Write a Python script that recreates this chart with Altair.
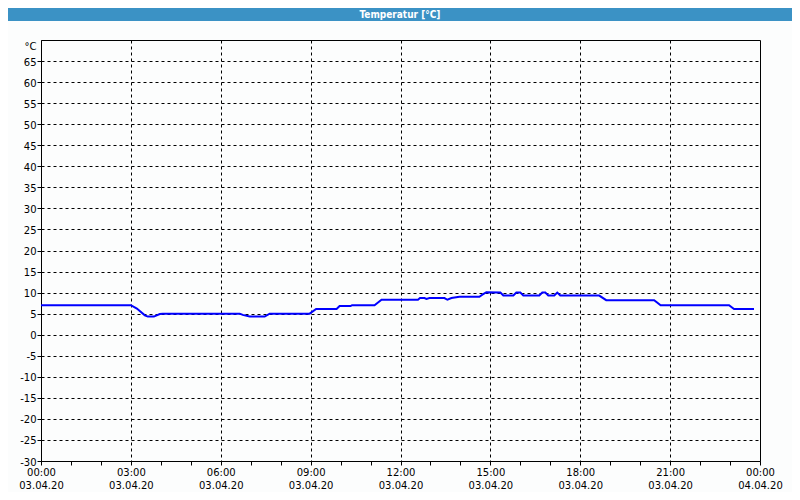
import altair as alt
import pandas as pd

# ---- data ----
times = ["00:00", "03:00", "03:12", "03:28", "03:34", "03:46", "03:58", "04:04",
         "06:38", "06:44", "06:58", "07:28", "07:38", "08:58", "09:11", "09:52",
         "09:58", "10:20", "10:23", "11:08", "11:22", "12:35", "12:39", "12:48",
         "12:52", "12:58", "13:28", "13:34", "13:42", "13:58", "14:38", "14:44",
         "14:52", "15:20", "15:26", "15:46", "15:52", "16:00", "16:06", "16:38",
         "16:44", "16:50", "16:56", "17:08", "17:14", "17:20", "18:38", "18:52",
         "20:28", "20:41", "22:58", "23:08", "23:48"]
temps = [7.0, 7.0, 6.2, 4.6, 4.3, 4.3, 4.9, 5.0,
         5.0, 4.7, 4.3, 4.3, 5.0, 5.0, 6.1, 6.1,
         6.8, 6.8, 7.0, 7.0, 8.3, 8.3, 8.7, 8.7,
         8.5, 8.7, 8.7, 8.3, 8.7, 9.0, 9.0, 9.5,
         10.1, 10.0, 9.3, 9.3, 10.0, 10.0, 9.3, 9.3,
         10.0, 10.0, 9.3, 9.3, 10.0, 9.3, 9.3, 8.2,
         8.2, 7.0, 7.0, 6.1, 6.1]

x_ticks = list(range(0, 25))          # hours, labelled every 3 h
y_ticks = list(range(-30, 75, 5))     # °C
title_text = ["Temperatur [°C]"]

hours = [int(t[:2]) + int(t[3:]) / 60 for t in times]
df = pd.DataFrame({"hour": hours, "temp": temps})
tdf = pd.DataFrame({"t": title_text})

FONT = "DejaVu Sans"

x_label_expr = ("datum.value % 3 === 0 ? [(datum.value % 24 < 10 ? '0' : '') + (datum.value % 24) + ':00', "
                "datum.value >= 24 ? '04.04.20' : '03.04.20'] : ''")

x_axis = alt.Axis(
    values=x_ticks, labelExpr=x_label_expr, title=None,
    grid=True, gridColor="#000", gridDash=[3, 3], gridWidth=1,
    gridOpacity={"condition": {"test": "datum.value % 3 === 0 && datum.value > 0 && datum.value < 24", "value": 1}, "value": 0},
    tickSize=4, tickColor="#000", domainColor="#000",
    labelPadding=2, labelLineHeight=13, labelBaseline="top",
    labelOverlap=False, labelFlush=False, labelBound=False,
    labelColor="#000", labelFont=FONT, labelFontSize=10,
)

y_axis = alt.Axis(
    values=y_ticks, labelExpr="datum.value === 70 ? '°C' : '' + datum.value", title=None,
    grid=True, gridColor="#000", gridDash=[3, 3], gridWidth=1,
    gridOpacity={"condition": {"test": "datum.value > -30 && datum.value < 70", "value": 1}, "value": 0},
    tickSize=4, tickColor="#000", domainColor="#000",
    tickOpacity={"condition": {"test": "datum.value === 70", "value": 0}, "value": 1},
    labelOffset={"condition": {"test": "datum.value === 70", "value": 6}, "value": 1},
    labelPadding=1, labelOverlap=False, labelFlush=False, labelBound=False,
    labelColor="#000", labelFont=FONT, labelFontSize=10,
)

line = alt.Chart(df).mark_line(color="#0000ff", strokeWidth=2).encode(
    x=alt.X("hour:Q", scale=alt.Scale(domain=[0, 24], nice=False), axis=x_axis),
    y=alt.Y("temp:Q", scale=alt.Scale(domain=[-30, 70], nice=False, zero=False), axis=y_axis),
)

bar = alt.Chart(tdf).mark_rect(color="#3b92c5").encode(
    x=alt.value(-33), x2=alt.value(751), y=alt.value(-32), y2=alt.value(-19)
)

title = alt.Chart(tdf).mark_text(
    color="white", fontWeight="bold", font="DejaVu Sans Condensed", fontSize=10,
    align="center", baseline="middle"
).encode(x=alt.value(359), y=alt.value(-25.5), text="t:N")

chart = alt.layer(bar, title, line).properties(
    width=719, height=421,
    padding={"left": 33, "top": 32, "right": 32, "bottom": 31},
    autosize=alt.AutoSizeParams(type="none"),
    background="#fcfdfd",
).configure_view(stroke="#000", strokeWidth=1)

chart.save("out.html", embed_options={"renderer": "svg", "actions": False})
